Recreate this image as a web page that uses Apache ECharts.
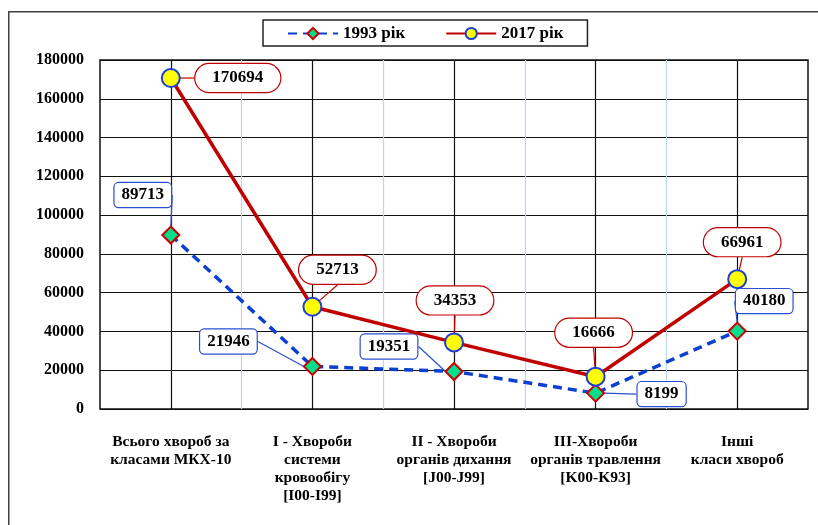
<!DOCTYPE html>
<html>
<head>
<meta charset="utf-8">
<script src="https://cdn.jsdelivr.net/npm/echarts@6/dist/echarts.min.js"></script>
<style>
html,body{margin:0;padding:0;background:#fff;}
#chart{width:818px;height:525px;}
</style>
</head>
<body>
<div id="chart"></div>
<script>
const categories = [
  'Всього хвороб за\nкласами МКХ-10',
  'I - Хвороби\nсистеми\nкровообігу\n[I00-I99]',
  'II - Хвороби\nорганів дихання\n[J00-J99]',
  'III-Хвороби\nорганів травлення\n[K00-K93]',
  'Інші\nкласи хвороб'
];
const values1993 = [89713, 21946, 19351, 8199, 40180];
const values2017 = [170694, 52713, 34353, 16666, 66961];
const seriesNames = ['1993 рік', '2017 рік'];

// callout label offsets (layout only)
const offs2017 = [[67, 0], [25, -37], [1, -42], [-2, -44], [5, -37]];
const offs1993 = [[-28, -40], [-84, -25], [-65, -25], [66, 1], [27, -30]];

const FONT = '"Liberation Serif", "Times New Roman", serif';
const chart = echarts.init(document.getElementById('chart'));

chart.setOption({
  animation: false,
  backgroundColor: '#fff',
  graphic: [{
    type: 'rect', left: 8, top: 11, z: -10,
    shape: { width: 840, height: 540 },
    style: { fill: '#fff', stroke: '#404040', lineWidth: 1.5 }
  }],
  legend: {
    top: 20, left: 263,
    padding: [5, 24, 4, 24],
    itemGap: 40,
    itemWidth: 50, itemHeight: 14,
    backgroundColor: '#fff',
    borderColor: '#222', borderWidth: 1.5,
    textStyle: { fontFamily: FONT, fontWeight: 'bold', fontSize: 17, color: '#000' },
    data: seriesNames
  },
  grid: {
    left: 100, right: 10, top: 60, bottom: 116,
    show: true, borderColor: '#111', borderWidth: 1.5
  },
  xAxis: [{
    type: 'category',
    data: categories,
    boundaryGap: true,
    axisLine: { show: false },
    axisTick: { show: false },
    splitLine: { show: false },
    axisLabel: {
      interval: 0, margin: 24,
      fontFamily: FONT, fontWeight: 'bold', fontSize: 15.5, lineHeight: 18,
      color: '#000', align: 'center'
    }
  }, {
    type: 'value', min: 0, max: 10, interval: 1,
    show: true,
    axisLine: { show: false }, axisTick: { show: false }, axisLabel: { show: false },
    splitLine: { show: true, showMinLine: false, showMaxLine: false,
      lineStyle: { color: ['#111', '#bdd7ee'], width: 1.2 } }
  }],
  yAxis: {
    type: 'value', min: 0, max: 180000, interval: 20000,
    axisLine: { show: false }, axisTick: { show: false },
    axisLabel: {
      margin: 16,
      formatter: function (v) { return String(v); },
      fontFamily: FONT, fontWeight: 'bold', fontSize: 16, color: '#000'
    },
    splitLine: { lineStyle: { color: '#111', width: 1.2 } }
  },
  series: [{
    name: seriesNames[0],
    type: 'line',
    data: values1993,
    symbol: 'diamond', symbolSize: 17,
    lineStyle: { color: '#0a3fd0', width: 3.5, type: [9, 6] },
    itemStyle: { color: '#00e08c', borderColor: '#cc0000', borderWidth: 2 },
    z: 3,
    label: {
      show: true, position: 'inside',
      fontFamily: FONT, fontWeight: 'bold', fontSize: 17, color: '#000',
      backgroundColor: '#fff', borderColor: '#2a4fd0', borderWidth: 1.2,
      borderRadius: 4, padding: [4, 7, 3, 7]
    },
    labelLine: { show: true, lineStyle: { color: '#2a4fd0', width: 1.2 } },
    labelLayout: function (p) { return { dx: offs1993[p.dataIndex][0], dy: offs1993[p.dataIndex][1] }; }
  }, {
    name: seriesNames[1],
    type: 'line',
    data: values2017,
    symbol: 'circle', symbolSize: 18,
    lineStyle: { color: '#c00000', width: 3.5 },
    itemStyle: { color: '#ffff00', borderColor: '#1f3fd0', borderWidth: 2 },
    z: 4,
    label: {
      show: true, position: 'inside',
      fontFamily: FONT, fontWeight: 'bold', fontSize: 17, color: '#000',
      backgroundColor: '#fff', borderColor: '#c00000', borderWidth: 1.2,
      borderRadius: 16, padding: [6, 17, 5, 17]
    },
    labelLine: { show: true, lineStyle: { color: '#c00000', width: 1.2 } },
    labelLayout: function (p) { return { dx: offs2017[p.dataIndex][0], dy: offs2017[p.dataIndex][1] }; }
  }]
});
</script>
</body>
</html>
